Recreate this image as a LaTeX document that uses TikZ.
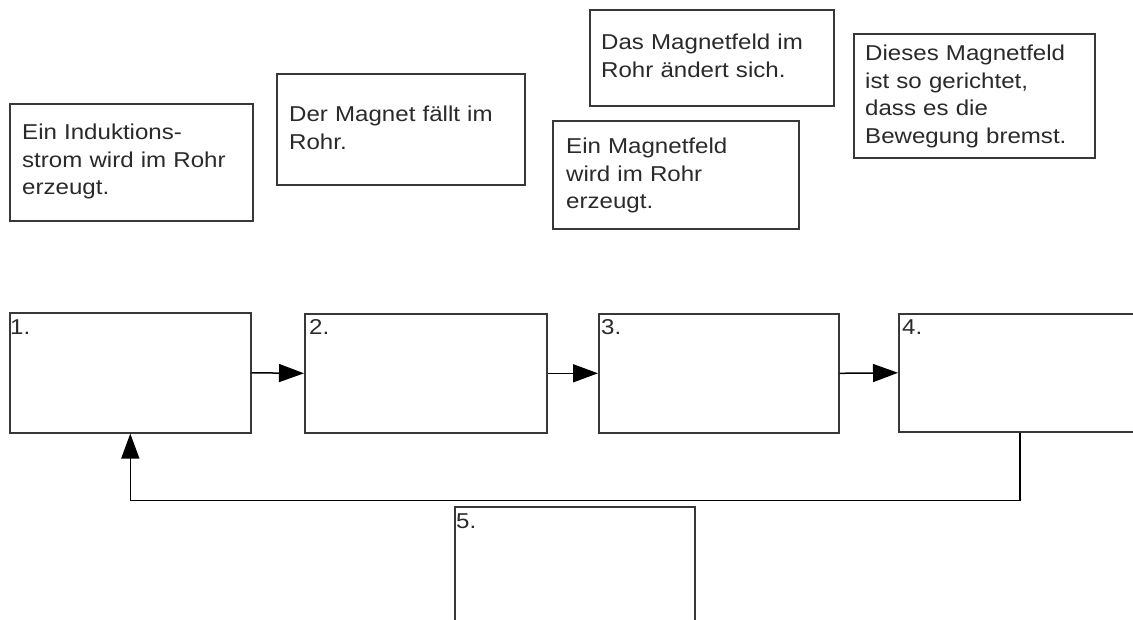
\documentclass[tikz,border=0pt]{standalone}
\usepackage{fontspec}
\setmainfont{Liberation Sans}[FakeStretch=1.12]
\usetikzlibrary{arrows.meta}
\definecolor{edge}{HTML}{383838}
\definecolor{ink}{HTML}{2A2A2A}
\tikzset{
  card/.style={draw=edge, line width=1.6pt, fill=white, rectangle, inner sep=0pt, anchor=north west},
  txt/.style={anchor=base west, inner sep=0pt, text=ink, text width=260pt, align=left,
    font=\fontsize{21.5}{27.5}\selectfont},
  num/.style={anchor=base west, inner sep=0pt, text=ink, font=\fontsize{21.5}{27.5}\selectfont},
  flow/.style={draw=black, line width=1.5pt, -{Triangle[length=25pt,width=18pt]}}
}
\begin{document}
\begin{tikzpicture}[x=1pt, y=-1pt]
\useasboundingbox (0,0) rectangle (1133,620);
\clip (0,0) rectangle (1133,620);

% statements to sort
\node[card, minimum width=243pt, minimum height=117pt] (sa) at (9,103) {};
\node[txt] (ta) at (22,140) {Ein Induktions-\\strom wird im Rohr\\erzeugt.};

\node[card, minimum width=248pt, minimum height=111pt] (sb) at (276,73) {};
\node[txt] (tb) at (289,122) {Der Magnet fällt im\\Rohr.};

\node[card, minimum width=244pt, minimum height=96pt] (sc) at (589,9) {};
\node[txt] (tc) at (601,50) {Das Magnetfeld im\\Rohr ändert sich.};

\node[card, minimum width=246pt, minimum height=108pt] (sd) at (552,120) {};
\node[txt] (td) at (566,154) {Ein Magnetfeld\\wird im Rohr\\erzeugt.};

\node[card, minimum width=241pt, minimum height=124pt] (se) at (853,33) {};
\node[txt] (te) at (865,61) {Dieses Magnetfeld\\ist so gerichtet,\\dass es die\\Bewegung bremst.};

% chain of empty slots
\node[card, minimum width=241pt, minimum height=120pt] (b1) at (9,312) {};
\node[card, minimum width=242pt, minimum height=119pt] (b2) at (304,313) {};
\node[card, minimum width=240pt, minimum height=119pt] (b3) at (598,313) {};
\node[card, minimum width=242pt, minimum height=118pt] (b4) at (898,313) {};
\node[card, minimum width=240pt, minimum height=150pt] (b5) at (454,506) {};

\node[num] (n1) at (10,335) {1.};
\node[num] (n2) at (309,335) {2.};
\node[num] (n3) at (601,335) {3.};
\node[num] (n4) at (902,335) {4.};
\node[num] (n5) at (456,528) {5.};

% arrows
\draw[flow] (b1.east) -- (b2.west);
\draw[flow] (b2.east) -- (b3.west);
\draw[flow] (b3.east) -- (b4.west);
\draw[flow] (b4.south) -- ++(0,68) -| (b1.south);
\end{tikzpicture}
\end{document}
